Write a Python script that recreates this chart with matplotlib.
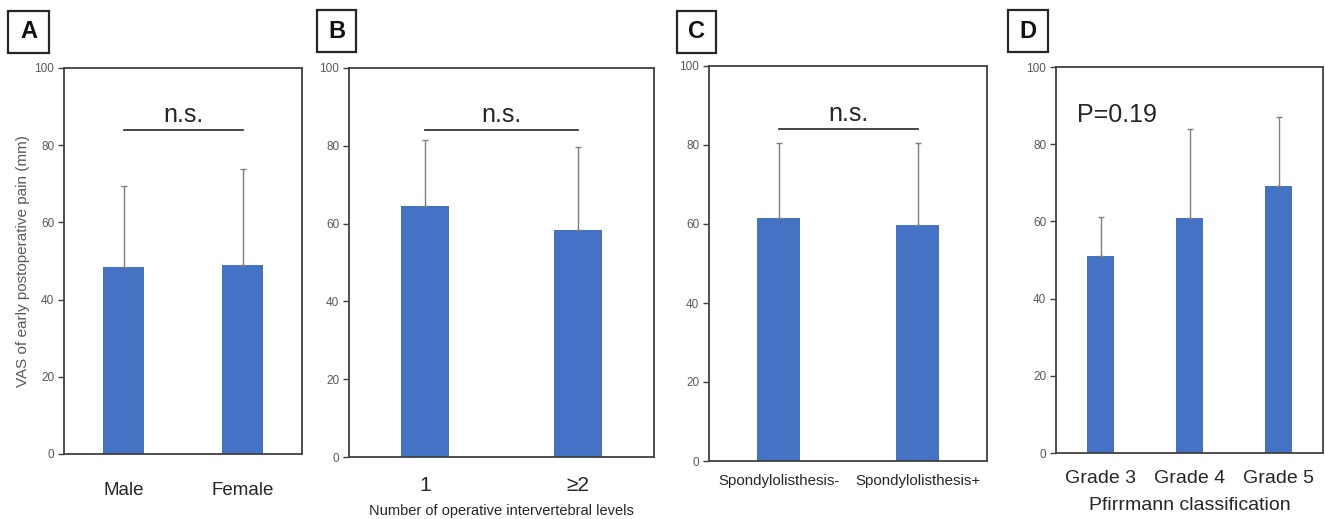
import matplotlib.pyplot as plt
from matplotlib.patches import Rectangle

plt.rcParams['font.family'] = ['Liberation Sans', 'DejaVu Sans']

# Panel A - sex
sex_labels = ['Male', 'Female']
sex_mean = [48.5, 48.9]
sex_sd = [21.0, 24.9]

# Panel B - number of operative levels
level_labels = ['1', '\u22652']
level_mean = [64.4, 58.4]
level_sd = [17.1, 21.4]

# Panel C - spondylolisthesis
spondy_labels = ['Spondylolisthesis-', 'Spondylolisthesis+']
spondy_mean = [61.4, 59.7]
spondy_sd = [19.2, 20.9]

# Panel D - Pfirrmann grade
grade_labels = ['Grade 3', 'Grade 4', 'Grade 5']
grade_mean = [51.0, 60.8, 69.1]
grade_sd = [10.1, 23.2, 18.0]

ns_y = 84
p_text = 'P=0.19'

W, H = 1326, 519
bar_color = '#4472C4'
axis_color = '#404040'
tick_color = '#595959'


def px_axes(left, right, top, bottom):
    return [left / W, 1 - bottom / H, (right - left) / W, (bottom - top) / H]


def draw_panel(ax, labels, means, sds, width, tick_size, tick_pad):
    x = list(range(len(labels)))
    ax.bar(x, means, width=width, color=bar_color, zorder=2)
    ax.errorbar(x, means, yerr=[[0] * len(sds), sds], fmt='none',
                ecolor='#7f7f7f', elinewidth=1.0, capsize=2.2, capthick=1.0, zorder=3)
    ax.set_xlim(-0.5, len(labels) - 0.5)
    ax.set_ylim(0, 100)
    ax.set_yticks([0, 20, 40, 60, 80, 100])
    ax.set_xticks(x)
    ax.set_xticklabels(labels, fontsize=tick_size, color='#262626')
    ax.tick_params(axis='x', length=0, pad=tick_pad)
    ax.tick_params(axis='y', length=4, width=1.0, color=axis_color,
                   labelsize=8.5, labelcolor=tick_color, pad=3)
    for s in ax.spines.values():
        s.set_color(axis_color)
        s.set_linewidth(1.3)


def add_ns(ax):
    ax.plot([0, 1], [ns_y, ns_y], color='#262626', lw=1.2, zorder=3)
    ax.text(0.5, ns_y + 2.0, 'n.s.', ha='center', va='baseline', fontsize=18, color='#262626')


def panel_label(fig, letter, left, right, top, bottom):
    fig.add_artist(Rectangle((left / W, 1 - bottom / H), (right - left) / W, (bottom - top) / H,
                             transform=fig.transFigure, fill=False, edgecolor='#262626', lw=1.6))
    fig.text((left + right) / 2 / W, 1 - (top + bottom) / 2 / H, letter, ha='center', va='center',
             fontsize=17, fontweight='bold', color='#111111')


fig = plt.figure(figsize=(W / 100, H / 100), dpi=100)

axA = fig.add_axes(px_axes(64, 302, 68, 454))
draw_panel(axA, sex_labels, sex_mean, sex_sd, 0.345, 13.5, 20)
add_ns(axA)
axA.set_ylabel('VAS of early postoperative pain (mm)', fontsize=11, color=tick_color, labelpad=3)

axB = fig.add_axes(px_axes(349, 654, 68, 457))
draw_panel(axB, level_labels, level_mean, level_sd, 0.315, 15, 14)
add_ns(axB)
axB.set_xlabel('Number of operative intervertebral levels', fontsize=10.5, color='#262626', labelpad=6.5)

axC = fig.add_axes(px_axes(709, 987, 66, 461))
draw_panel(axC, spondy_labels, spondy_mean, spondy_sd, 0.31, 10.8, 9)
add_ns(axC)

axD = fig.add_axes(px_axes(1056, 1323, 67, 453))
draw_panel(axD, grade_labels, grade_mean, grade_sd, 0.31, 14, 12)
axD.set_xlabel('Pfirrmann classification', fontsize=14, color='#262626', labelpad=7.5)
axD.text(-0.26, 85.8, p_text, ha='left', va='baseline', fontsize=18, color='#262626')

panel_label(fig, 'A', 8, 49, 11, 53)
panel_label(fig, 'B', 317, 356, 10, 52)
panel_label(fig, 'C', 677, 716, 11, 53)
panel_label(fig, 'D', 1008, 1048, 10, 52)

fig.savefig('out.png', dpi=100, facecolor='white')
